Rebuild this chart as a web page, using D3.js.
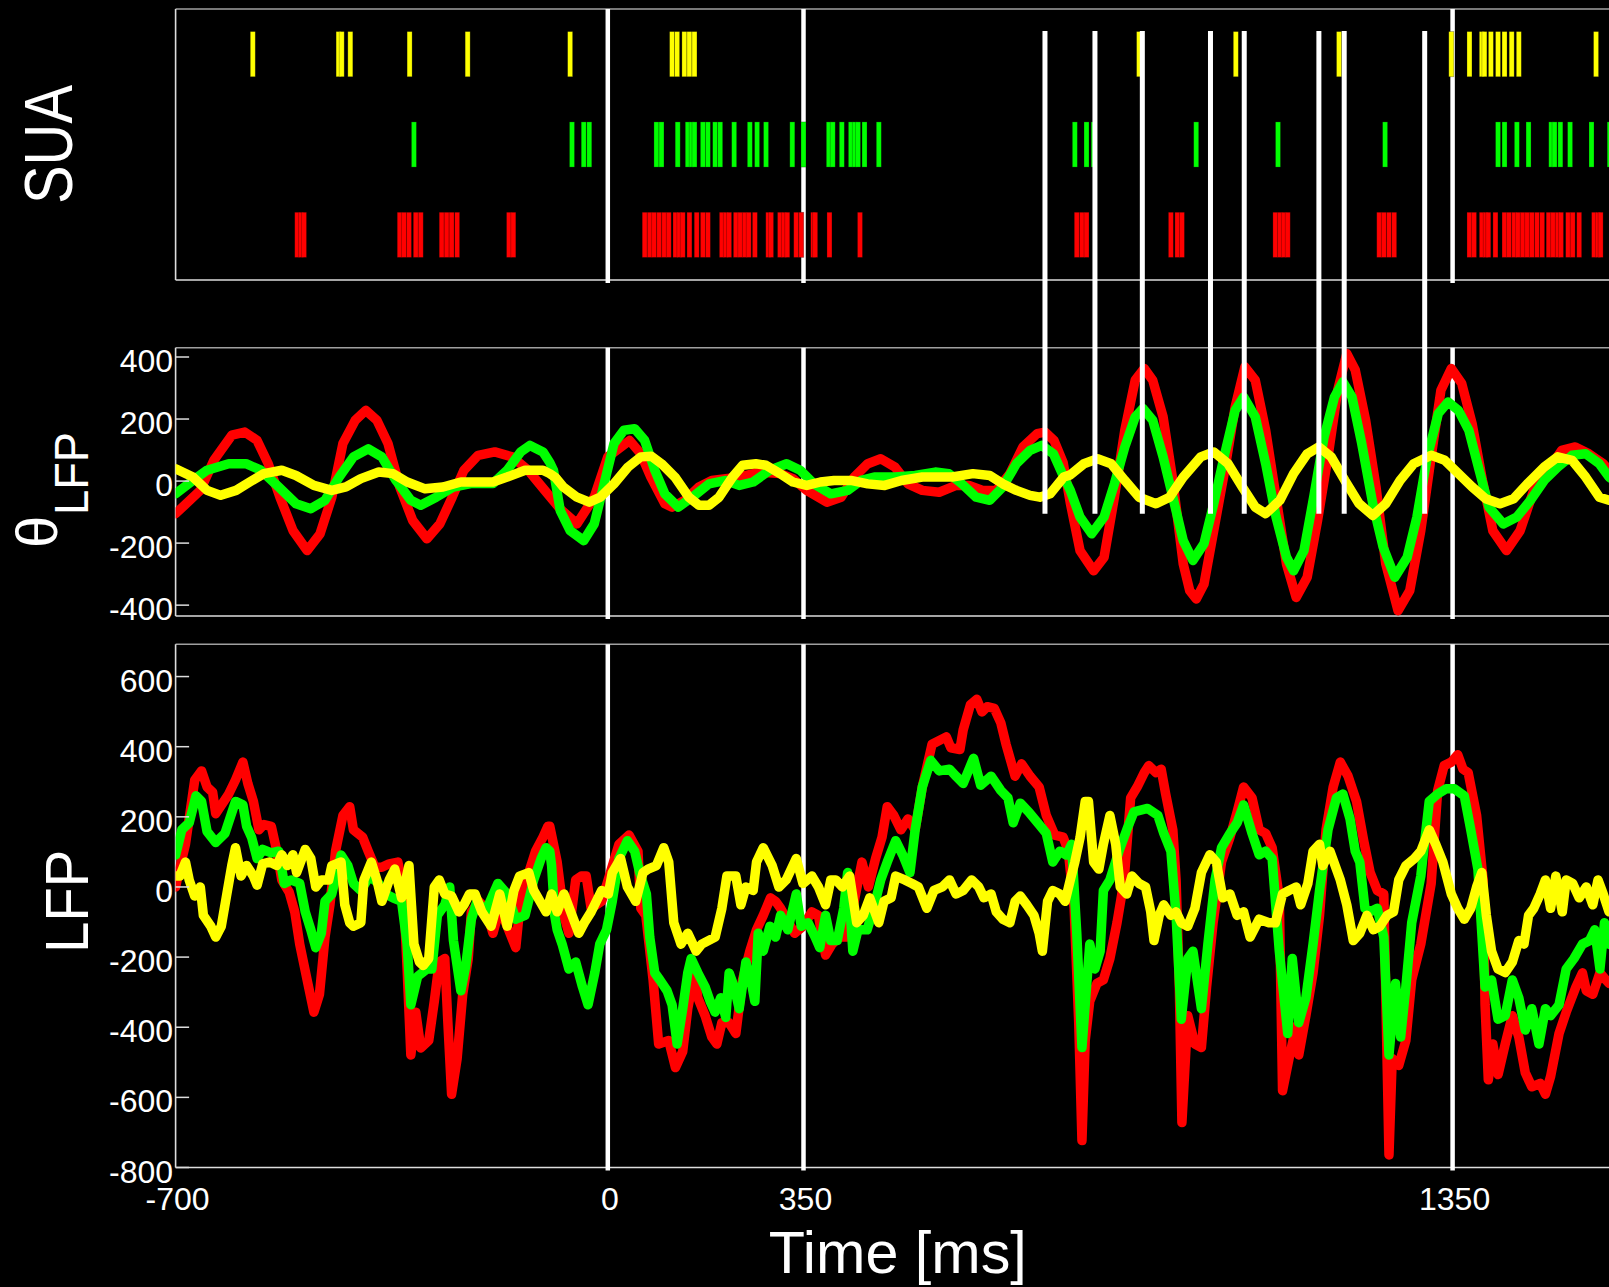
<!DOCTYPE html>
<html><head><meta charset="utf-8">
<script src="https://cdn.jsdelivr.net/npm/d3@7"></script>
<style>html,body{margin:0;padding:0;background:#000;}svg{display:block;}</style>
</head><body><svg id="c" width="1609" height="1287"></svg>
<script>
// ---------------- DATA ----------------
const xTicks = [-700, 0, 350, 1350];
const markerLines = [0, 350, 1350];
const eventLines = [722, 799, 872, 977, 1029, 1144, 1183, 1307];
const thetaTicks = [-400, -200, 0, 200, 400];
const lfpTicks = [-800, -600, -400, -200, 0, 200, 400, 600];
const units = ["yellow", "green", "red"];

const spikesYellow = [-575,-436,-431,-417,-321,-227,-61,115,124,137,146,155,867,1016,1175,1348,1376,1395,1399,1409,1420,1430,1441,1452,1571];
const spikesGreen = [-314,-58,-39,-30,87,96,125,143,150,155,170,179,192,201,226,254,267,283,330,350,389,395,409,423,429,434,444,466,768,786,797,955,1081,1246,1420,1430,1449,1467,1502,1507,1516,1531,1564,1592];
const spikesRed = [-503,-497,-492,-337,-330,-322,-311,-303,-269,-261,-253,-244,-160,-153,66,75,83,92,101,109,121,128,134,146,159,170,179,204,211,217,229,237,245,252,263,287,292,308,315,321,337,346,365,368,390,437,771,779,786,916,926,933,1077,1084,1090,1096,1237,1244,1252,1260,1376,1383,1395,1401,1405,1416,1430,1437,1445,1451,1458,1465,1472,1480,1488,1498,1505,1512,1517,1528,1535,1545,1568,1574,1578];

const thetaRed = [[-700,-105],[-660,-30],[-638,67],[-609,148],[-588,158],[-568,131],[-550,56],[-531,-52],[-510,-159],[-487,-224],[-466,-170],[-447,-52],[-429,121],[-409,196],[-392,228],[-374,196],[-356,121],[-337,-19],[-316,-127],[-293,-186],[-272,-138],[-252,-52],[-233,35],[-210,83],[-183,94],[-155,78],[-129,35],[-102,-30],[-77,-90],[-50,-138],[-22,-52],[0,78],[39,131],[59,88],[77,13],[102,-73],[115,-84],[138,-62],[163,-19],[186,2],[211,8],[235,13],[272,29],[308,24],[331,8],[355,-30],[386,-68],[408,-52],[428,13],[449,56],[469,72],[491,45],[511,-9],[533,-30],[559,-36],[585,-14],[605,-14],[626,-30],[647,-30],[668,24],[688,110],[710,153],[722,158],[736,131],[750,60],[761,-70],[776,-224],[797,-289],[813,-246],[829,-52],[845,164],[861,325],[875,363],[888,325],[904,207],[919,2],[935,-267],[945,-353],[955,-380],[967,-332],[982,-160],[999,35],[1015,239],[1030,368],[1046,325],[1062,164],[1078,-52],[1094,-267],[1109,-375],[1126,-310],[1142,-127],[1158,78],[1173,293],[1187,411],[1200,358],[1216,196],[1232,-19],[1247,-267],[1266,-418],[1284,-353],[1301,-160],[1317,78],[1332,293],[1348,363],[1364,315],[1380,186],[1396,2],[1412,-160],[1433,-224],[1454,-160],[1475,-30],[1497,35],[1518,99],[1539,110],[1560,88],[1582,56],[1591,35],[1600,25]];
const thetaGreen = [[-700,-41],[-672,2],[-649,35],[-614,56],[-586,56],[-562,35],[-533,-19],[-505,-73],[-481,-89],[-458,-62],[-435,13],[-412,78],[-388,104],[-366,78],[-343,2],[-319,-62],[-303,-78],[-278,-52],[-250,-19],[-222,-8],[-186,-8],[-163,35],[-141,94],[-126,115],[-105,94],[-94,60],[-88,35],[-77,-95],[-61,-160],[-39,-192],[-22,-138],[-6,-9],[11,121],[29,164],[48,169],[66,131],[84,35],[102,-41],[126,-84],[151,-52],[181,-9],[211,2],[235,-14],[260,-3],[290,35],[320,56],[344,35],[366,-9],[392,-41],[418,-30],[439,2],[459,13],[491,13],[522,18],[553,29],[574,24],[594,-9],[616,-52],[637,-62],[657,-19],[678,56],[699,99],[717,115],[735,88],[751,13],[761,-30],[776,-116],[794,-170],[813,-116],[829,-9],[845,110],[861,207],[873,234],[888,196],[904,78],[919,-52],[935,-192],[950,-256],[967,-202],[982,-73],[999,88],[1015,228],[1028,271],[1046,207],[1062,56],[1078,-116],[1094,-245],[1105,-289],[1121,-224],[1136,-52],[1152,142],[1168,271],[1181,320],[1195,271],[1210,121],[1227,-73],[1243,-213],[1261,-310],[1280,-246],[1295,-116],[1311,78],[1328,218],[1343,255],[1359,228],[1375,164],[1391,35],[1406,-84],[1428,-138],[1449,-116],[1470,-62],[1491,2],[1512,45],[1534,83],[1555,88],[1576,56],[1591,13],[1600,0]];
const thetaYellow = [[-700,40],[-672,13],[-649,-30],[-627,-46],[-602,-30],[-580,-3],[-557,24],[-528,35],[-505,18],[-476,-14],[-447,-30],[-424,-19],[-400,8],[-371,29],[-348,24],[-325,-3],[-296,-25],[-267,-19],[-238,-3],[-209,-3],[-186,-3],[-163,13],[-134,35],[-105,35],[-94,24],[-84,10],[-72,-19],[-50,-52],[-30,-68],[-12,-52],[11,-9],[36,45],[59,78],[78,80],[96,56],[120,13],[145,-52],[163,-78],[181,-78],[199,-52],[223,13],[241,51],[265,56],[283,51],[308,24],[331,-3],[355,-14],[376,-3],[397,2],[423,2],[449,-9],[475,-14],[501,2],[533,13],[579,13],[611,24],[637,18],[657,-9],[678,-30],[699,-46],[714,-52],[730,-41],[751,13],[761,20],[782,56],[803,72],[824,56],[845,2],[867,-52],[893,-73],[914,-52],[935,13],[962,78],[982,94],[1004,56],[1026,-19],[1046,-84],[1062,-105],[1084,-62],[1105,24],[1126,88],[1144,110],[1163,78],[1184,2],[1206,-73],[1227,-111],[1247,-73],[1269,2],[1290,56],[1317,83],[1338,67],[1359,24],[1380,-19],[1401,-57],[1423,-73],[1444,-57],[1465,-9],[1491,45],[1512,78],[1534,67],[1555,13],[1576,-52],[1591,-62],[1600,-62]];

const lfpRed = [[-700,0],[-695,41],[-684,122],[-669,305],[-658,331],[-649,285],[-640,270],[-635,209],[-614,265],[-603,305],[-591,356],[-583,295],[-574,244],[-565,163],[-557,178],[-545,173],[-536,102],[-528,20],[-516,-15],[-507,-71],[-499,-163],[-487,-265],[-476,-357],[-467,-306],[-458,-143],[-450,-51],[-441,102],[-429,204],[-418,229],[-412,163],[-397,142],[-388,102],[-377,56],[-366,56],[-354,66],[-340,71],[-331,-10],[-325,-234],[-319,-479],[-311,-357],[-303,-459],[-290,-438],[-281,-326],[-273,-214],[-264,-204],[-259,-387],[-253,-591],[-244,-489],[-235,-306],[-226,-204],[-221,-71],[-209,-41],[-198,-61],[-186,-132],[-175,-61],[-163,-112],[-149,-173],[-141,-31],[-117,102],[-105,142],[-97,173],[-94,173],[-82,71],[-71,-81],[-63,-132],[-52,20],[-43,31],[-35,31],[-27,-61],[-10,-41],[20,122],[38,148],[54,102],[59,-61],[68,-81],[81,-265],[91,-448],[109,-438],[121,-515],[134,-469],[143,-347],[155,-245],[161,-316],[174,-367],[186,-428],[195,-448],[204,-387],[217,-387],[229,-418],[241,-265],[254,-183],[266,-122],[278,-81],[291,-31],[300,-41],[309,-61],[334,-132],[349,-112],[363,-71],[373,-81],[384,-194],[394,-163],[405,-143],[415,-143],[426,-61],[440,71],[450,0],[461,81],[471,142],[479,229],[489,204],[500,163],[511,194],[522,163],[533,285],[548,407],[570,428],[577,397],[591,392],[596,448],[607,519],[617,535],[625,499],[633,514],[644,509],[654,468],[662,407],[676,316],[686,351],[699,316],[713,285],[724,204],[737,148],[750,142],[758,102],[767,-60],[774,-387],[779,-723],[784,-438],[791,-326],[802,-275],[812,-265],[822,-204],[833,-102],[844,20],[854,254],[864,285],[875,326],[882,346],[893,326],[901,336],[908,265],[919,163],[924,20],[929,-285],[933,-672],[942,-367],[953,-448],[963,-458],[971,-285],[981,-102],[994,71],[1007,142],[1018,214],[1028,285],[1041,254],[1052,163],[1062,153],[1072,112],[1083,-31],[1088,-581],[1098,-489],[1109,-397],[1113,-479],[1124,-367],[1135,-245],[1145,-81],[1155,163],[1166,285],[1177,356],[1189,316],[1202,244],[1213,132],[1223,41],[1234,-10],[1244,-20],[1249,-489],[1252,-764],[1257,-489],[1267,-509],[1278,-438],[1287,-265],[1301,-163],[1317,10],[1327,275],[1337,346],[1348,356],[1358,377],[1366,336],[1374,326],[1387,204],[1397,20],[1400,-336],[1405,-550],[1412,-448],[1420,-535],[1431,-448],[1442,-367],[1452,-428],[1462,-530],[1472,-570],[1485,-560],[1493,-591],[1501,-540],[1514,-418],[1525,-357],[1540,-285],[1550,-245],[1556,-296],[1566,-306],[1577,-245],[1586,-265],[1591,-275],[1600,-280]];
const lfpGreen = [[-700,91],[-690,163],[-678,183],[-667,260],[-658,244],[-649,158],[-635,127],[-620,153],[-603,244],[-591,234],[-585,173],[-577,142],[-568,81],[-559,107],[-545,97],[-533,102],[-524,10],[-513,20],[-499,10],[-490,-71],[-481,-122],[-473,-173],[-464,-132],[-458,-41],[-447,-20],[-432,91],[-421,61],[-412,10],[-400,-10],[-386,31],[-371,10],[-360,-20],[-348,-31],[-334,-41],[-325,-163],[-319,-336],[-308,-255],[-293,-234],[-285,-234],[-276,-81],[-264,-51],[-256,0],[-250,-153],[-238,-296],[-230,-224],[-221,-92],[-212,-41],[-198,-71],[-178,10],[-163,-20],[-149,-92],[-134,-81],[-120,20],[-108,81],[-100,112],[-94,102],[-91,61],[-86,-81],[-82,-122],[-74,-163],[-63,-234],[-52,-214],[-41,-285],[-32,-336],[-21,-244],[-13,-163],[-2,-122],[8,-41],[20,81],[35,132],[48,102],[57,41],[69,-20],[75,-143],[84,-245],[93,-265],[106,-296],[115,-336],[124,-448],[134,-347],[143,-245],[149,-204],[161,-245],[174,-285],[183,-326],[192,-357],[202,-316],[211,-372],[217,-245],[226,-285],[235,-347],[247,-214],[257,-275],[263,-326],[269,-132],[278,-183],[290,-112],[300,-143],[309,-81],[322,-122],[337,-20],[346,-112],[357,-102],[368,-143],[375,-173],[384,-81],[392,-153],[402,-153],[412,-61],[418,41],[426,-183],[434,-122],[448,-122],[458,-61],[469,20],[479,71],[492,132],[503,91],[514,41],[522,163],[533,285],[546,361],[559,331],[575,336],[585,316],[596,295],[612,367],[623,290],[639,316],[654,275],[665,254],[673,183],[684,239],[697,214],[713,178],[724,153],[734,71],[745,102],[755,91],[763,122],[771,-132],[779,-458],[791,-163],[799,-234],[807,-183],[812,-10],[822,20],[836,102],[848,163],[859,214],[880,224],[896,204],[905,153],[916,102],[924,-81],[932,-377],[942,-204],[950,-183],[963,-347],[973,-163],[984,20],[994,112],[1007,153],[1018,183],[1028,234],[1041,153],[1052,92],[1062,102],[1072,81],[1083,-183],[1096,-418],[1103,-204],[1113,-387],[1124,-316],[1135,-163],[1145,-10],[1158,163],[1171,254],[1181,265],[1192,194],[1200,102],[1207,71],[1215,-61],[1223,-71],[1234,-61],[1244,-143],[1252,-479],[1262,-275],[1270,-428],[1278,-285],[1287,-102],[1301,31],[1314,244],[1327,265],[1340,280],[1353,280],[1368,260],[1378,163],[1389,51],[1400,-285],[1410,-265],[1420,-377],[1431,-367],[1442,-265],[1452,-316],[1462,-408],[1472,-347],[1483,-448],[1493,-347],[1501,-367],[1514,-336],[1525,-234],[1537,-204],[1550,-163],[1561,-153],[1569,-122],[1577,-234],[1584,-102],[1591,-163],[1600,-170]];
const lfpYellow = [[-700,31],[-693,31],[-684,71],[-678,20],[-669,-26],[-660,0],[-655,-81],[-643,-112],[-635,-143],[-626,-112],[-617,-20],[-609,61],[-603,112],[-594,31],[-585,61],[-574,31],[-568,5],[-559,66],[-548,71],[-536,61],[-528,92],[-519,61],[-510,92],[-504,41],[-490,107],[-481,81],[-473,0],[-464,20],[-452,20],[-447,61],[-432,71],[-426,-51],[-418,-102],[-412,-112],[-400,-102],[-395,20],[-383,71],[-374,20],[-366,-41],[-354,20],[-345,51],[-334,-31],[-322,61],[-314,-163],[-305,-214],[-299,-224],[-290,-204],[-281,0],[-273,20],[-264,-20],[-253,-26],[-241,-71],[-233,-51],[-224,-20],[-215,-20],[-204,-71],[-189,-112],[-175,-20],[-163,-112],[-152,-10],[-143,31],[-128,41],[-120,-10],[-100,-71],[-91,-20],[-82,-71],[-71,-20],[-47,-132],[-38,-102],[-27,-71],[-10,-10],[1,-20],[8,41],[23,81],[35,0],[50,-41],[63,41],[72,51],[87,61],[100,112],[109,71],[118,-102],[131,-163],[143,-132],[158,-183],[168,-163],[180,-153],[192,-143],[204,-61],[213,31],[229,31],[238,-51],[247,0],[260,-10],[266,71],[278,112],[294,61],[306,0],[319,20],[337,81],[349,10],[363,31],[373,0],[384,-51],[392,20],[400,20],[410,0],[421,31],[432,-102],[442,-81],[452,-31],[466,-102],[474,-41],[485,-31],[492,31],[506,20],[517,10],[527,0],[540,-61],[551,-10],[564,0],[575,20],[585,-20],[596,-10],[609,20],[620,0],[628,-31],[639,-20],[647,-71],[657,-92],[668,-102],[676,-41],[684,-26],[694,-51],[705,-81],[713,-132],[718,-183],[726,-41],[734,-10],[745,-20],[753,-41],[761,20],[768,71],[776,140],[784,244],[789,244],[797,71],[805,51],[812,122],[822,204],[831,122],[838,0],[848,-20],[856,31],[867,10],[877,0],[885,-71],[890,-153],[898,-81],[905,-51],[916,-81],[924,-71],[932,-102],[942,-112],[953,-61],[963,41],[976,92],[986,71],[996,-31],[1007,-20],[1018,-81],[1028,-71],[1038,-143],[1052,-92],[1067,-102],[1077,-102],[1088,-20],[1098,-10],[1109,0],[1116,-51],[1127,10],[1135,102],[1145,122],[1150,61],[1161,102],[1177,20],[1187,-51],[1197,-153],[1207,-132],[1218,-81],[1228,-122],[1238,-112],[1249,-81],[1259,-71],[1267,20],[1278,61],[1291,81],[1301,102],[1314,163],[1324,122],[1335,71],[1348,-20],[1358,-61],[1368,-92],[1378,-61],[1387,0],[1395,41],[1402,-81],[1410,-183],[1420,-234],[1431,-244],[1442,-214],[1452,-153],[1460,-163],[1467,-81],[1475,-61],[1485,-20],[1493,20],[1501,-61],[1509,31],[1519,-71],[1525,20],[1535,10],[1545,-31],[1556,0],[1566,-51],[1574,20],[1582,-20],[1591,-71],[1600,-60]];

// ---------------- LAYOUT ----------------
const COL = {red:"#ff0000", green:"#00ff00", yellow:"#ffff00"};
const FONT = "'Liberation Sans', Arial, Helvetica, sans-serif";
const svg = d3.select("#c");
svg.append("rect").attr("width",1609).attr("height",1287).attr("fill","#000");

const xMax = 1608;
const x = d3.scaleLinear().domain([-700, 0, 350, 1350]).range([175.6, 607.8, 803.5, 1452.6]);
const left = x(-700), right = x(xMax);

const sua = {top: 9, bot: 280};
const th = {top: 347.7, bot: 616};
const lf = {top: 644.3, bot: 1167.5};

const ySua = d3.scaleLinear().domain([-0.5, 2.5]).range([sua.top, sua.bot]);
const yTh = d3.scaleLinear().domain([-435, 430]).range([th.bot, th.top]);
const yLf = d3.scaleLinear().domain([-800, 692]).range([lf.bot, lf.top]);

function frame(p){
  const g = svg.append("g");
  g.append("line").attr("x1",left).attr("x2",right).attr("y1",p.top).attr("y2",p.top).attr("stroke","#a0a0a0").attr("stroke-width",1.6);
  g.append("line").attr("x1",left).attr("x2",right).attr("y1",p.bot).attr("y2",p.bot).attr("stroke","#dddddd").attr("stroke-width",1.6);
  g.append("line").attr("x1",left).attr("x2",left).attr("y1",p.top).attr("y2",p.bot).attr("stroke","#dddddd").attr("stroke-width",1.6);
}
[sua, th, lf].forEach(frame);

// marker lines per panel
[sua, th, lf].forEach(p => {
  svg.append("g").selectAll("line").data(markerLines).join("line")
    .attr("x1", d => x(d)).attr("x2", d => x(d))
    .attr("y1", p.top).attr("y2", p.bot + 3)
    .attr("stroke", "#fff").attr("stroke-width", 4.5);
});

// SUA raster
const spikeSets = [spikesYellow, spikesGreen, spikesRed];
spikeSets.forEach((arr, i) => {
  svg.append("g").selectAll("rect").data(arr).join("rect")
    .attr("x", d => x(d) - 2.5).attr("width", 5)
    .attr("y", ySua(i - 0.25)).attr("height", ySua(i + 0.25) - ySua(i - 0.25))
    .attr("fill", COL[units[i]])
    .attr("stroke", "rgba(0,0,0,0.35)").attr("stroke-width", 0.7);
});

// clip paths
const defs = svg.append("defs");
defs.append("clipPath").attr("id","cth").append("rect").attr("x",left).attr("y",th.top).attr("width",right-left).attr("height",th.bot-th.top);
defs.append("clipPath").attr("id","clf").append("rect").attr("x",left).attr("y",lf.top).attr("width",right-left).attr("height",lf.bot-lf.top);

function traces(series, yS, clip){
  const g = svg.append("g").attr("clip-path", `url(#${clip})`);
  const line = d3.line().x(d => x(d[0])).y(d => yS(d[1]));
  series.forEach(([data, c]) => {
    g.append("path").attr("d", line(data)).attr("fill","none")
      .attr("stroke", COL[c]).attr("stroke-width", 9.5)
      .attr("stroke-linejoin","round").attr("stroke-linecap","round");
  });
}
traces([[thetaRed,"red"],[thetaGreen,"green"],[thetaYellow,"yellow"]], yTh, "cth");
traces([[lfpRed,"red"],[lfpGreen,"green"],[lfpYellow,"yellow"]], yLf, "clf");

// event lines (SUA through theta panel)
svg.append("g").selectAll("line").data(eventLines).join("line")
  .attr("x1", d => x(d)).attr("x2", d => x(d))
  .attr("y1", 31).attr("y2", yTh(-105))
  .attr("stroke", "#fff").attr("stroke-width", 5);

// y axes
function yAxis(yS, ticks){
  const g = svg.append("g");
  g.selectAll("line").data(ticks).join("line")
    .attr("x1", left).attr("x2", left + 13.5)
    .attr("y1", d => yS(d)).attr("y2", d => yS(d))
    .attr("stroke", "#dddddd").attr("stroke-width", 1.5);
  g.selectAll("text").data(ticks).join("text")
    .attr("x", left - 2.5).attr("y", d => yS(d) + 15)
    .attr("text-anchor","end").attr("fill","#fff")
    .attr("font-family", FONT).attr("font-size", 32)
    .text(d => String(d));
}
yAxis(yTh, thetaTicks);
yAxis(yLf, lfpTicks);

// x axis labels
svg.append("g").selectAll("text").data(xTicks).join("text")
  .attr("x", d => x(d) + 2).attr("y", 1209.5)
  .attr("text-anchor","middle").attr("fill","#fff")
  .attr("font-family", FONT).attr("font-size", 32)
  .text(d => String(d));

// titles
svg.append("text").attr("x", (left + right) / 2).attr("y", 1273)
  .attr("text-anchor","middle").attr("fill","#fff")
  .attr("font-family", FONT).attr("font-size", 60)
  .attr("textLength", 258).attr("lengthAdjust","spacingAndGlyphs")
  .text("Time [ms]");

svg.append("text").attr("transform", `translate(71.5,${(sua.top+sua.bot)/2}) rotate(-90)`)
  .attr("text-anchor","middle").attr("fill","#fff")
  .attr("font-family", FONT).attr("font-size", 68)
  .attr("textLength", 119).attr("lengthAdjust","spacingAndGlyphs")
  .text("SUA");

svg.append("text").attr("transform", "translate(57,548) rotate(-90)")
  .attr("fill","#fff").attr("font-family", FONT).attr("font-size", 58)
  .text("θ");
svg.append("text").attr("transform", "translate(87.5,515) rotate(-90)")
  .attr("fill","#fff").attr("font-family", FONT).attr("font-size", 49)
  .attr("textLength", 83).attr("lengthAdjust","spacingAndGlyphs")
  .text("LFP");

svg.append("text").attr("transform", `translate(87.5,${(lf.top+lf.bot)/2 - 4.6}) rotate(-90)`)
  .attr("text-anchor","middle").attr("fill","#fff")
  .attr("font-family", FONT).attr("font-size", 62)
  .attr("textLength", 103).attr("lengthAdjust","spacingAndGlyphs")
  .text("LFP");
</script>
</body></html>
